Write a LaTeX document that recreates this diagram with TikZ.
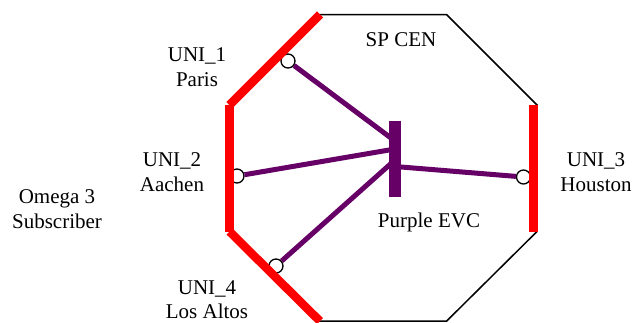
\documentclass[tikz,border=0pt]{standalone}
\usepackage{fontspec}
\setmainfont{Liberation Serif}
\definecolor{evcpurple}{RGB}{102,0,102}
\tikzset{
  cen/.style={line width=1.5pt,black},
  unired/.style={line width=8.5pt,red},
  uni/.style={circle,draw,fill=white,line width=1.3pt,minimum size=14pt,inner sep=0pt},
  vc/.style={line width=5pt,evcpurple},
  lbl/.style={align=center,font=\fontsize{21}{24.5}\selectfont}
}
\begin{document}
\begin{tikzpicture}[x=1pt,y=-1pt]
                \useasboundingbox (0,0) rectangle (634,322);
                % octagon corners
                \coordinate (nw) at (320,14.5);
                \coordinate (ne) at (446.5,14.5);
                \coordinate (en) at (537,105);
                \coordinate (es) at (537,231.5);
                \coordinate (se) at (446.5,321.2);
                \coordinate (sw) at (320,321.2);
                \coordinate (ws) at (229.5,231.5);
                \coordinate (wn) at (229.5,105);
                \draw[cen] (nw) -- (ne) -- (en) -- (es) -- (se) -- (sw) -- (ws) -- (wn) -- cycle;
                % points on the EVC bar
                \coordinate (e1) at (395,141);
                \coordinate (e2) at (395,149);
                \coordinate (e3) at (395,166.5);
                \coordinate (e4) at (395,160);
                \node[uni] (u1) at (288,61) {};
                \node[uni] (u2) at (237,176) {};
                \node[uni] (u3) at (523.5,177) {};
                \node[uni] (u4) at (276,266) {};
                \draw[vc] (u1) -- (e1);
                \draw[vc] (u2) -- (e2);
                \draw[vc] (u3) -- (e3);
                \draw[vc] (u4) -- (e4);
                \draw[unired] (wn) -- (nw);
                \draw[unired] (wn) -- (ws);
                \draw[unired] (ws) -- (sw);
                \draw[unired] ([xshift=-3.5pt]en) -- ([xshift=-3.5pt]es);
                \node[fill=evcpurple,minimum width=11.5pt,minimum height=76.5pt,inner sep=0pt] (evc) at (395,159) {};
                % labels
                \node[lbl] (cen) at (401,40) {SP CEN};
                \node[lbl] (l1) at (197,67) {UNI\_1\\Paris};
                \node[lbl] (l2) at (172,172) {UNI\_2\\Aachen};
                \node[lbl] (l3) at (596,172) {UNI\_3\\Houston};
                \node[lbl] (l4) at (207,299.5) {UNI\_4\\Los Altos};
                \node[lbl] (sub) at (57,209) {Omega 3\\Subscriber};
                \node[lbl] (evcname) at (429,222) {Purple EVC};
            \end{tikzpicture}
\end{document}
